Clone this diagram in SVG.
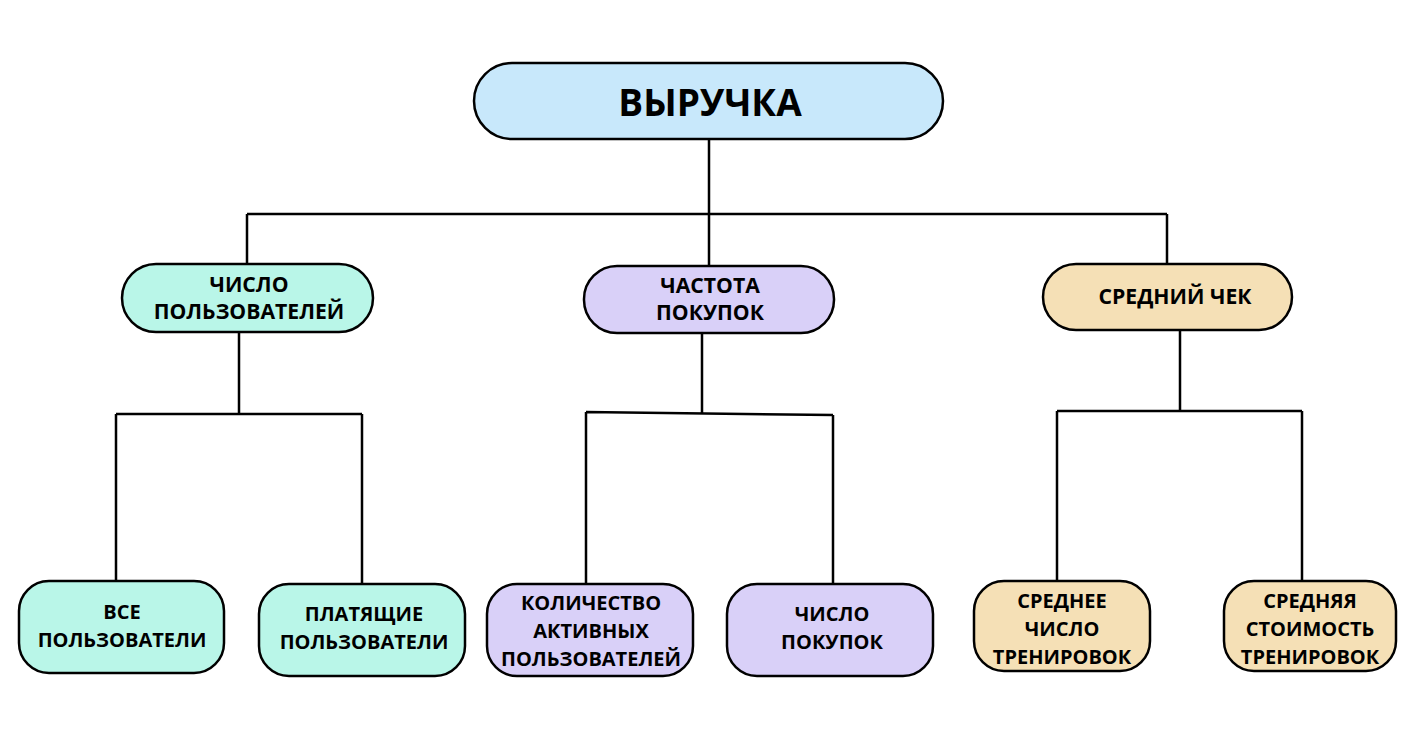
<svg xmlns="http://www.w3.org/2000/svg" width="1421" height="751" viewBox="0 0 1421 751">
<style>
.n{stroke:#000;stroke-width:2.5}
.b{fill:#c8e8fb}.g{fill:#b9f6e8}.p{fill:#d9d0f8}.y{fill:#f5e0b6}
text{font-family:"Open Sans","Noto Sans","Liberation Sans",sans-serif;font-weight:bold;fill:#000;text-anchor:middle}
.t1{font-size:37px}.t2{font-size:21.2px}.t3{font-size:20px}
.c{fill:none;stroke:#000;stroke-width:2.5}
</style>
<rect width="1421" height="751" fill="#fff"/>
<g id="connectors">
<path class="c" d="M709 139V214M247 214H1167M247 214V264M709 214V266M1167 214V264"/>
<path class="c" d="M239 332V414M116 414H362M116 414V581M362 414V584"/>
<path class="c" d="M702 333V413M586 412L833 415M586 412V584M833 415V584"/>
<path class="c" d="M1180 330V411M1057 411H1302M1057 411V581M1302 411V581"/>
</g>
<g id="root"><rect class="n b" x="474" y="63" width="469" height="76" rx="38"/><text class="t1" x="710" y="116">ВЫРУЧКА</text></g>
<g id="users"><rect class="n g" x="122" y="264" width="251" height="68" rx="34"/><text class="t2" x="249" y="292">ЧИСЛО</text><text class="t2" x="249" y="319">ПОЛЬЗОВАТЕЛЕЙ</text></g>
<g id="freq"><rect class="n p" x="584" y="266" width="250" height="67" rx="33"/><text class="t2" x="710" y="293">ЧАСТОТА</text><text class="t2" x="710" y="320">ПОКУПОК</text></g>
<g id="check"><rect class="n y" x="1043" y="264" width="249" height="66" rx="33"/><text class="t2" x="1175" y="304">СРЕДНИЙ ЧЕК</text></g>
<g id="all"><rect class="n g" x="19" y="581" width="205" height="92" rx="30"/><text class="t3" x="122" y="619">ВСЕ</text><text class="t3" x="122" y="647">ПОЛЬЗОВАТЕЛИ</text></g>
<g id="paying"><rect class="n g" x="259" y="584" width="206" height="92" rx="30"/><text class="t3" x="364" y="621">ПЛАТЯЩИЕ</text><text class="t3" x="364" y="649">ПОЛЬЗОВАТЕЛИ</text></g>
<g id="active"><rect class="n p" x="487" y="584" width="206" height="92" rx="30"/><text class="t3" x="591" y="610">КОЛИЧЕСТВО</text><text class="t3" x="591" y="638">АКТИВНЫХ</text><text class="t3" x="591" y="666">ПОЛЬЗОВАТЕЛЕЙ</text></g>
<g id="purchases"><rect class="n p" x="727" y="584" width="206" height="92" rx="30"/><text class="t3" x="832" y="621">ЧИСЛО</text><text class="t3" x="832" y="649">ПОКУПОК</text></g>
<g id="avgcount"><rect class="n y" x="974" y="581" width="176" height="90" rx="30"/><text class="t3" x="1062" y="608">СРЕДНЕЕ</text><text class="t3" x="1062" y="636">ЧИСЛО</text><text class="t3" x="1062" y="664">ТРЕНИРОВОК</text></g>
<g id="avgcost"><rect class="n y" x="1224" y="581" width="172" height="90" rx="30"/><text class="t3" x="1310" y="608">СРЕДНЯЯ</text><text class="t3" x="1310" y="636">СТОИМОСТЬ</text><text class="t3" x="1310" y="664">ТРЕНИРОВОК</text></g>
</svg>
